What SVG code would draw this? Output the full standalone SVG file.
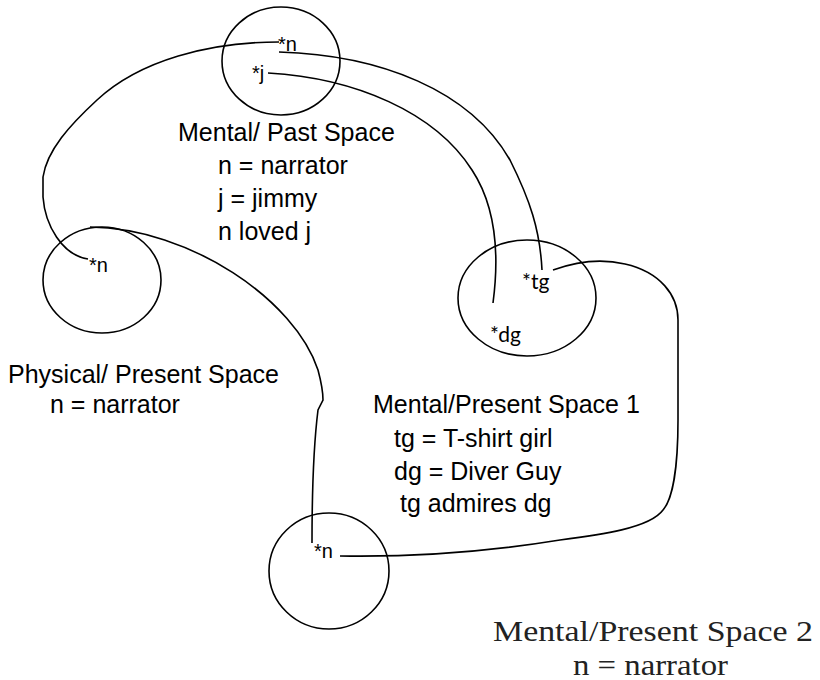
<svg xmlns="http://www.w3.org/2000/svg" width="820" height="680" viewBox="0 0 820 680">
<style>
.sp{fill:none;stroke:#000;stroke-width:1.6}
.ln{fill:none;stroke:#000;stroke-width:1.6}
.lab{font-family:"Liberation Sans",Arial,sans-serif;font-size:25px;fill:#000}
.mk{font-family:"Liberation Sans",Arial,sans-serif;font-size:20px;fill:#000}
.mk2{font-family:Lato,"Open Sans",sans-serif;font-size:21px;fill:#000}
.ser{font-family:"Liberation Serif","DejaVu Serif",serif;font-size:30px;fill:#222}
</style>
<rect width="820" height="680" fill="#fff"/>
<g id="past-space">
<ellipse class="sp" cx="281" cy="61" rx="59" ry="54"/>
<text class="mk" x="278" y="51">*n</text>
<text class="mk" x="252" y="80">*j</text>
<text class="lab" x="178" y="141">Mental/ Past Space</text>
<text class="lab" x="218" y="174">n = narrator</text>
<text class="lab" x="218" y="207">j = jimmy</text>
<text class="lab" x="218" y="240">n loved j</text>
</g>
<g id="physical-space">
<ellipse class="sp" cx="102" cy="280" rx="59" ry="53"/>
<text class="mk" x="89" y="272">*n</text>
<text class="lab" x="8" y="383">Physical/ Present Space</text>
<text class="lab" x="50" y="413">n = narrator</text>
</g>
<g id="mental-space-1">
<ellipse class="sp" cx="527" cy="298" rx="69" ry="58"/>
<text class="mk2" x="522" y="289">*tg</text>
<text class="mk2" x="490" y="342">*dg</text>
<text class="lab" x="373" y="413">Mental/Present Space 1</text>
<text class="lab" x="394" y="447">tg = T-shirt girl</text>
<text class="lab" x="394" y="480">dg = Diver Guy</text>
<text class="lab" x="400" y="512">tg admires dg</text>
</g>
<g id="mental-space-2">
<ellipse class="sp" cx="329" cy="571" rx="60" ry="58"/>
<text class="mk" x="314" y="558">*n</text>
<text class="ser" x="493" y="641" textLength="320" lengthAdjust="spacingAndGlyphs">Mental/Present Space 2</text>
<text class="ser" x="573" y="675" textLength="155" lengthAdjust="spacingAndGlyphs">n = narrator</text>
</g>
<g id="connectors">
<path class="ln" d="M279,42 C210,42 140,60 97,100 C70,125 47,150 43,177 L43,197 C45,225 62,255 88,259"/>
<path class="ln" d="M279,52 C380,55 470,90 510,160 C530,200 540,230 542,270"/>
<path class="ln" d="M268,73 C355,78 435,112 472,170 C495,205 500,250 493,303"/>
<path class="ln" d="M553,270 C575,262 600,258 625,264 C660,272 678,295 678,320 L678,420 C678,470 672,500 663,510 C650,528 600,535 560,540 C480,553 400,557 340,556"/>
<path class="ln" d="M90,227 C190,228 295,300 318,370 C322,385 323,395 323,400 L318,410 C313,450 312,500 312,543"/>
</g>
</svg>
